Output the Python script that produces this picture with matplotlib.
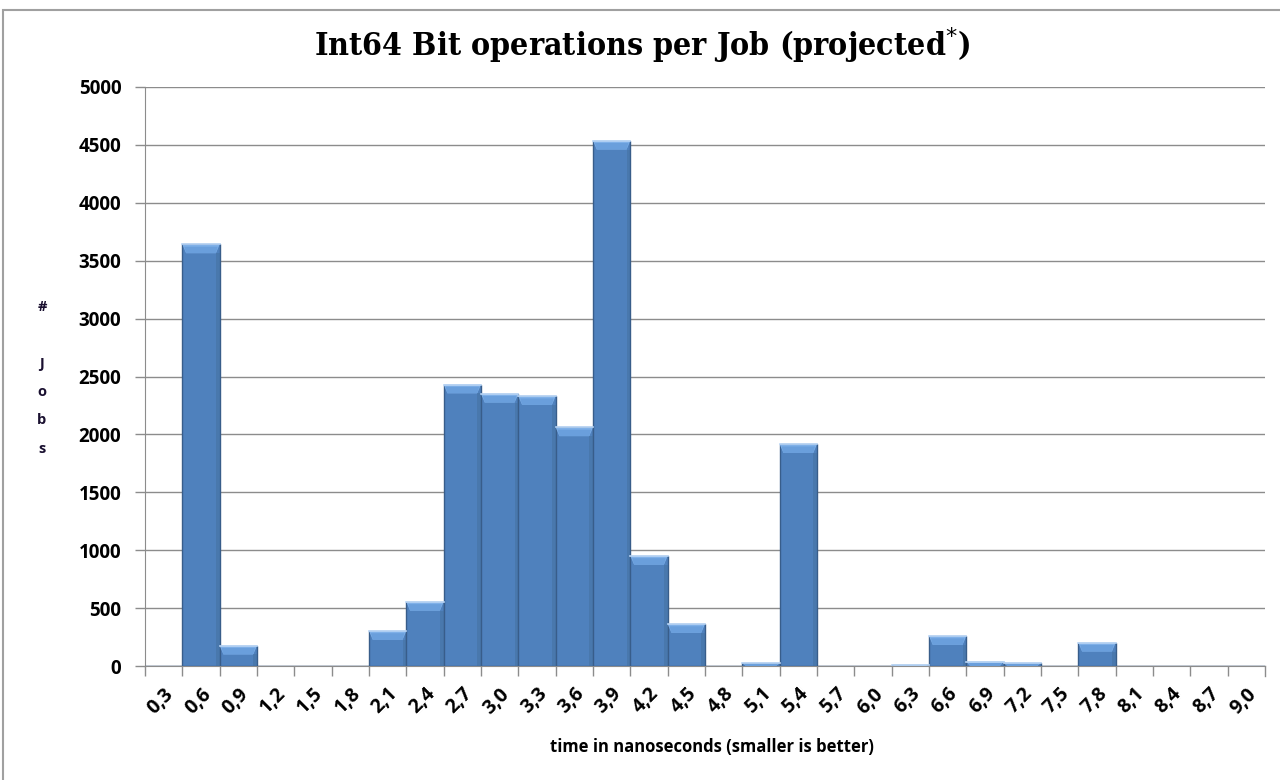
import numpy as np
import matplotlib
matplotlib.use("Agg")
import matplotlib.pyplot as plt
from matplotlib.patches import Rectangle, Polygon
from matplotlib.transforms import ScaledTranslation

# categories (time in ns) and job counts
labels = ["0,3", "0,6", "0,9", "1,2", "1,5", "1,8", "2,1", "2,4", "2,7", "3,0",
          "3,3", "3,6", "3,9", "4,2", "4,5", "4,8", "5,1", "5,4", "5,7", "6,0",
          "6,3", "6,6", "6,9", "7,2", "7,5", "7,8", "8,1", "8,4", "8,7", "9,0"]
jobs = [0, 3640, 175, 0, 0, 0, 302, 553, 2430, 2350,
        2330, 2060, 4535, 950, 362, 0, 22, 1915, 0, 0,
        10, 258, 37, 25, 0, 200, 0, 0, 0, 0]
yticks = [0, 500, 1000, 1500, 2000, 2500, 3000, 3500, 4000, 4500, 5000]

W, H = 1280, 780
fig = plt.figure(figsize=(12.8, 7.8), dpi=100)
fig.patch.set_facecolor("white")

# chart area border (only left and top fall inside the picture)
fig.add_artist(Rectangle((3 / W, -0.05), 1.2, 1 + 0.05 - 10 / H, transform=fig.transFigure,
                         fill=False, edgecolor="#a0a0a0", lw=1.5))

ax = fig.add_axes([145 / W, 1 - 666 / H, 1120 / W, (666 - 87) / H])
x = np.arange(len(labels))

ax.bar(x, jobs, width=1.0, color="#4f81bd", edgecolor="#385d8a", lw=1.0, zorder=3)

# bevel on top of each bar
bev = 75
for xi, v in zip(x, jobs):
    if v <= 0:
        continue
    h = min(bev, v)
    inset = 0.1
    ax.add_patch(Polygon([(xi - 0.5, v), (xi + 0.5, v), (xi + 0.5 - inset, v - h),
                          (xi - 0.5 + inset, v - h)], closed=True,
                         facecolor="#7fb0e8", edgecolor="none", zorder=4))
    ax.add_patch(Polygon([(xi - 0.5 + 0.05, v - h * 0.25), (xi + 0.5 - 0.05, v - h * 0.25),
                          (xi + 0.5 - inset, v - h), (xi - 0.5 + inset, v - h)], closed=True,
                         facecolor="#6a9fdc", edgecolor="none", zorder=4))
    ax.plot([xi - 0.5, xi + 0.5], [v, v], color="#b9d5f5", lw=1.2, zorder=5)
    if v > 150:
        ax.add_patch(Rectangle((xi + 0.5 - inset, 0), inset, v - h,
                               facecolor="#44709f", edgecolor="none", zorder=4, alpha=0.5))

ax.set_xlim(-0.5, len(labels) - 0.5)
ax.set_ylim(0, 5000)
ax.set_yticks(yticks)
ax.set_yticklabels([str(t) for t in yticks], fontsize=13.5, fontweight="bold", family="Open Sans")
ax.yaxis.grid(True, color="#8c8c8c", lw=1.0, zorder=0)
ax.set_axisbelow(True)

ax.set_xticks(x - 0.5, minor=False)
ax.set_xticklabels([])
ax.set_xticks(x, minor=True)
ax.set_xticklabels(labels, minor=True, rotation=45, ha="right", va="top",
                   rotation_mode="anchor", fontsize=14, fontweight="bold", family="Open Sans")
for t in ax.xaxis.get_minorticklabels():
    t.set_transform(t.get_transform() + ScaledTranslation(3 / 100, 0, fig.dpi_scale_trans))
ax.tick_params(axis="x", which="major", length=7, color="#8c8c8c", width=1.0)
ax.tick_params(axis="x", which="minor", length=0, pad=13)
ax.tick_params(axis="y", length=7, color="#8c8c8c", width=1.0, pad=10)

for s in ["top", "right"]:
    ax.spines[s].set_visible(False)
ax.spines["left"].set_color("#8c8c8c")
ax.spines["bottom"].set_color("#8c8c8c")

# extra boundary tick at the right end
ax.plot([len(labels) - 0.5] * 2, [0, -90], color="#8c8c8c", lw=1.0, clip_on=False)

fig.text(642 / W, 1 - 45 / H, "Int64 Bit operations per Job (projected$^{*}$)",
         ha="center", va="center", fontsize=23, fontweight="heavy",
         family="DejaVu Serif", fontstretch="condensed")
fig.text(712 / W, 1 - 747 / H, "time in nanoseconds (smaller is better)",
         ha="center", va="center", fontsize=12, fontweight="bold", family="Open Sans")
fig.text(42 / W, 1 - 378 / H, "#\n\nJ\no\nb\ns", ha="center", va="center",
         fontsize=10.5, fontweight="bold", family="Open Sans", linespacing=2.3,
         color="#1a1030")

fig.savefig("out.png", dpi=100, facecolor="white")
